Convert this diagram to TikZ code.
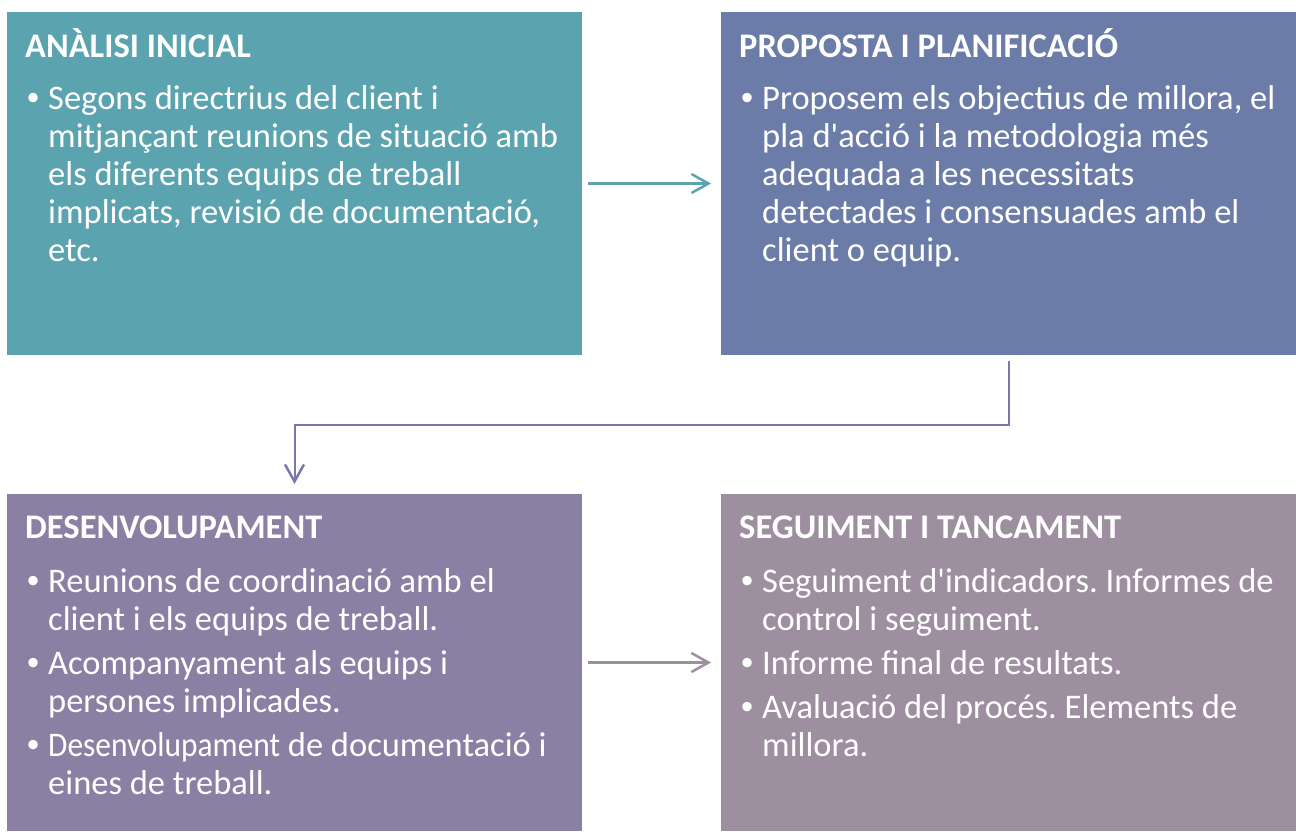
\documentclass[tikz,border=0pt]{standalone}
\usepackage{fontspec}
\usepackage{graphicx}
\setmainfont{Carlito}[Ligatures=TeXOff]
\newfontfamily\bulfont{Liberation Sans}
\usetikzlibrary{arrows.meta}
\frenchspacing
\definecolor{cA}{HTML}{5BA3AF}
\definecolor{cB}{HTML}{6B7CA8}
\definecolor{cC}{HTML}{8980A3}
\definecolor{cD}{HTML}{9E8FA0}
\definecolor{arA}{HTML}{5BA3AF}
\definecolor{arB}{HTML}{7A78AA}
\definecolor{arC}{HTML}{9E8FA0}
\newcommand\bitem{\par\hangindent=21pt\hangafter=1\noindent\makebox[21pt][l]{\bulfont\textbullet}}
\newcommand\bodytext[1]{\parbox[t]{600pt}{\fontsize{34.5}{38}\selectfont\frenchspacing\parskip=6pt\rightskip=0pt plus 1fil\relax #1}}
\tikzset{
  box/.style={draw=none, minimum width=575pt, inner sep=0pt, outer sep=0pt},
  ttl/.style={anchor=base west, inner sep=0pt, text=white, font=\fontsize{34.5}{40}\selectfont\bfseries},
  body/.style={anchor=base west, inner sep=0pt, text=white},
  arr/.style={line width=2.5pt, -{Straight Barb[length=17pt,width=19pt,line width=2.5pt]}, shorten <=6pt, shorten >=10pt}
}
\begin{document}
\begin{tikzpicture}[x=1pt,y=1pt]
\useasboundingbox (0,0) rectangle (1296,-831);
% boxes
\node[box, fill=cA, minimum height=343pt, anchor=north west] (a) at (7,-12) {};
\node[box, fill=cB, minimum height=343pt, anchor=north west] (b) at (721,-12) {};
\node[box, fill=cC, minimum height=337pt, anchor=north west] (c) at (7,-494) {};
\node[box, fill=cD, minimum height=337pt, anchor=north west] (d) at (721,-494) {};
% titles
\node[ttl] (ta) at (25,-57) {ANÀLISI INICIAL};
\node[ttl] (tb) at (739,-57) {PROPOSTA I PLANIFICACIÓ};
\node[ttl] (tc) at (25,-538) {DESENVOLUPAMENT};
\node[ttl] (td) at (739,-538) {SEGUIMENT I TANCAMENT};
% bodies
\node[body] (ba) at (27,-109) {\bodytext{\bitem Segons directrius del client i\\mitjançant reunions de situació amb\\els diferents equips de treball\\implicats, revisió de documentació,\\etc.}};
\node[body] (bb) at (741,-109) {\bodytext{\bitem Proposem els objectius de millora, el\\pla d'acció i la metodologia més\\adequada a les necessitats\\detectades i consensuades amb el\\client o equip.}};
\node[body] (bc) at (27,-592) {\bodytext{\bitem Reunions de coordinació amb el\\client i els equips de treball.\bitem Acompanyament als equips i\\persones implicades.\bitem \scalebox{0.91}[1]{Desenvolupament} de documentació i\\eines de treball.}};
\node[body] (bd) at (741,-592) {\bodytext{\bitem Seguiment d'indicadors. Informes de\\control i seguiment.\bitem Informe final de resultats.\bitem Avaluació del procés. Elements de\\millora.}};
% connectors
\draw[arr, arA] (a.east) -- (b.west);
\draw[arr, arB, line width=2pt] (b.south) -- ++(0,-70) -| (c.north);
\draw[arr, arC] (c.east) -- (d.west);
\end{tikzpicture}
\end{document}
